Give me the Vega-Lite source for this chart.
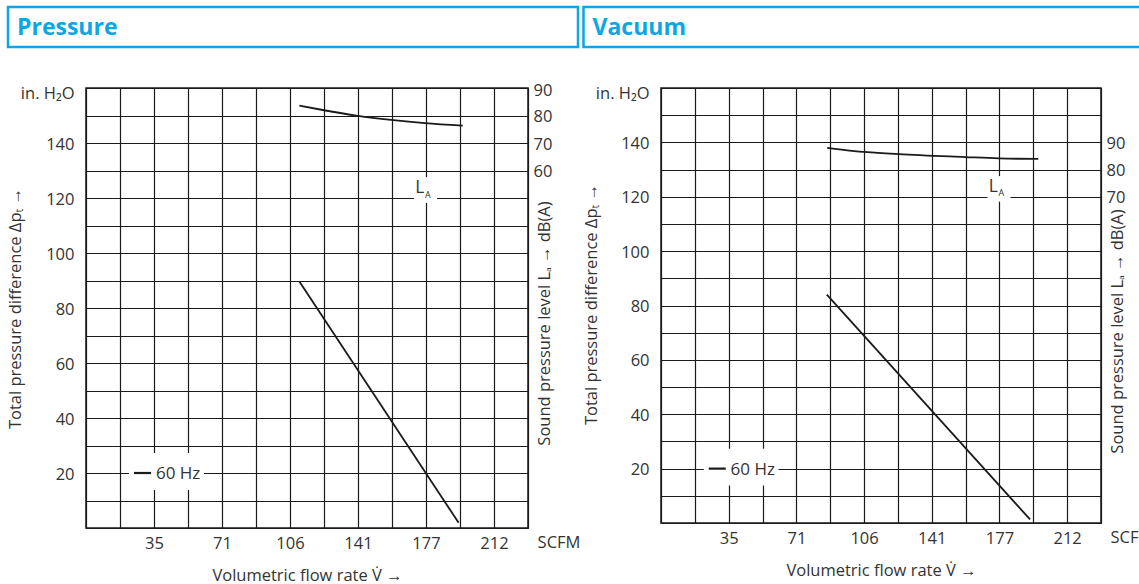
{
  "$schema": "https://vega.github.io/schema/vega-lite/v6.json",
  "padding": {"left": 6, "top": 5, "right": 0, "bottom": 0},
  "background": "white",
  "datasets": {
    "p60": [{"flow": 110.8, "dp": 89.6}, {"flow": 193.5, "dp": 1.9}],
    "pLA": [{"flow": 110.8, "db": 83.6}, {"flow": 122.9, "db": 82.0}, {"flow": 141.1, "db": 79.9}, {"flow": 158.4, "db": 78.4}, {"flow": 176.0, "db": 77.2}, {"flow": 195.6, "db": 76.3}],
    "v60": [{"flow": 86.5, "dp": 84.0}, {"flow": 192.5, "dp": 1.3}],
    "vLA": [{"flow": 86.7, "db": 88.0}, {"flow": 99.6, "db": 86.9}, {"flow": 124.1, "db": 85.7}, {"flow": 158.6, "db": 84.6}, {"flow": 176.3, "db": 84.1}, {"flow": 196.8, "db": 83.9}]
  },
  "config": {
    "font": "Open Sans",
    "view": {"stroke": "#1a1a1a", "strokeWidth": 1.5},
    "axis": {
      "labelFont": "Open Sans", "titleFont": "Open Sans", "labelColor": "#333", "titleColor": "#333",
      "labelFontSize": 16.5, "titleFontSize": 16.5, "titleFontWeight": "normal",
      "ticks": false, "domain": false, "labelFlush": false, "labelOverlap": false, "labelBound": false,
      "gridColor": "#1a1a1a", "gridWidth": 1.2, "gridOpacity": 1
    }
  },
  "spacing": 32,
  "vconcat": [
    {
      "spacing": 1.5,
      "hconcat": [
        {
          "width": 492, "height": 40,
          "view": {"stroke": null},
          "data": {"values": [{"title": "Pressure"}]},
          "layer": [
            {
              "mark": {"type": "rect", "fill": "transparent", "stroke": "#0AA6E6", "strokeWidth": 2.5},
              "encoding": {
                "x": {"datum": 0, "type": "quantitative", "scale": {"domain": [0.13684, 1], "nice": false, "zero": false}, "axis": null},
                "x2": {"datum": 1},
                "y": {"datum": 0, "type": "quantitative", "scale": {"domain": [0, 1]}, "axis": null},
                "y2": {"datum": 1}
              }
            },
            {
              "mark": {"type": "text", "align": "left", "baseline": "middle", "fontSize": 23, "fontWeight": "bold", "color": "#0AA6E6", "dx": 9, "dy": 1, "font": "Open Sans"},
              "encoding": {
                "x": {"datum": 0, "type": "quantitative", "axis": null},
                "y": {"datum": 0.5, "type": "quantitative", "axis": null},
                "text": {"field": "title"}
              }
            }
          ],
          "resolve": {"axis": {"x": "independent", "y": "independent"}}
        },
        {
          "width": 489, "height": 40,
          "view": {"stroke": null},
          "data": {"values": [{"title": "Vacuum"}]},
          "layer": [
            {
              "mark": {"type": "rect", "fill": "transparent", "stroke": "#0AA6E6", "strokeWidth": 2.5},
              "encoding": {
                "x": {"datum": 0, "type": "quantitative", "scale": {"domain": [0.14211, 1], "nice": false, "zero": false}, "axis": null},
                "x2": {"datum": 1},
                "y": {"datum": 0, "type": "quantitative", "scale": {"domain": [0, 1]}, "axis": null},
                "y2": {"datum": 1}
              }
            },
            {
              "mark": {"type": "text", "align": "left", "baseline": "middle", "fontSize": 23, "fontWeight": "bold", "color": "#0AA6E6", "dx": 9, "dy": 1, "font": "Open Sans"},
              "encoding": {
                "x": {"datum": 0, "type": "quantitative", "axis": null},
                "y": {"datum": 0.5, "type": "quantitative", "axis": null},
                "text": {"field": "title"}
              }
            }
          ],
          "resolve": {"axis": {"x": "independent", "y": "independent"}}
        }
      ]
    },
    {
      "spacing": 0,
      "hconcat": [
        {
          "width": 442, "height": 440,
          "layer": [
            {
              "layer": [
                {
                  "data": {"name": "p60"},
                  "mark": {"type": "line", "color": "#1a1a1a", "strokeWidth": 1.8},
                  "encoding": {
                    "x": {"field": "flow", "type": "quantitative", "scale": {"domain": [0, 229.515], "nice": false, "zero": false},
                      "axis": {"values": [0, 17.655, 35.31, 52.965, 70.62, 88.275, 105.93, 123.585, 141.24, 158.895, 176.55, 194.205, 211.86, 229.515],
                        "grid": true, "labelExpr": "(round(datum.value / 17.655) % 2 == 0 && datum.value > 1 && datum.value < 220) ? format(datum.value, '.0f') : ''",
                        "labelPadding": 7, "title": "Volumetric flow rate V\u0307 \u2192", "titlePadding": 16}},
                    "y": {"field": "dp", "type": "quantitative", "scale": {"domain": [0, 160], "nice": false, "zero": false},
                      "axis": {"values": [0, 10, 20, 30, 40, 50, 60, 70, 80, 90, 100, 110, 120, 130, 140, 150, 160], "grid": true,
                        "labelExpr": "datum.value == 160 ? 'in. H\u2082O' : ((datum.value >= 20 && datum.value <= 140 && datum.value % 20 == 0) ? datum.label : '')",
                        "labelBaseline": "middle",
                        "labelOffset": {"condition": {"test": "datum.value == 160", "value": 5}, "value": 1},
                        "labelPadding": 12,
                        "title": "Total pressure difference \u0394p\u209c  \u2192",
                        "titleAngle": -90, "titleX": -71, "titleY": 220, "titleBaseline": "middle", "titleAlign": "center"}}
                  }
                },
                {
                  "data": {"values": [{"box": "LA"}]},
                  "mark": {"type": "rect", "fill": "white"},
                  "encoding": {
                    "x": {"datum": 170.3, "type": "quantitative", "axis": null}, "x2": {"datum": 182.3},
                    "y": {"datum": 118.2, "type": "quantitative", "axis": null}, "y2": {"datum": 127.6}
                  }
                },
                {
                  "data": {"values": [{"box": "60 Hz"}]},
                  "mark": {"type": "rect", "fill": "white"},
                  "encoding": {
                    "x": {"datum": 22.3, "type": "quantitative", "axis": null}, "x2": {"datum": 61.3},
                    "y": {"datum": 13.8, "type": "quantitative", "axis": null}, "y2": {"datum": 27.3}
                  }
                },
                {
                  "data": {"values": [{"main": "L", "sub": "A"}]},
                  "mark": {"type": "text", "align": "right", "baseline": "alphabetic", "fontSize": 17.5, "color": "#333", "dx": -1.5, "dy": -5},
                  "encoding": {
                    "x": {"datum": 176.55, "type": "quantitative", "axis": null},
                    "y": {"datum": 120, "type": "quantitative", "axis": null},
                    "text": {"field": "main"}
                  }
                },
                {
                  "data": {"values": [{"main": "L", "sub": "A"}]},
                  "mark": {"type": "text", "align": "left", "baseline": "alphabetic", "fontSize": 9, "color": "#333", "dx": -1, "dy": -0.5},
                  "encoding": {
                    "x": {"datum": 176.55, "type": "quantitative", "axis": null},
                    "y": {"datum": 120, "type": "quantitative", "axis": null},
                    "text": {"field": "sub"}
                  }
                },
                {
                  "data": {"values": [{"series": "60 Hz"}]},
                  "mark": {"type": "rule", "color": "#1a1a1a", "strokeWidth": 2.2},
                  "encoding": {
                    "x": {"datum": 24.9, "type": "quantitative", "axis": null}, "x2": {"datum": 33.8},
                    "y": {"datum": 20, "type": "quantitative", "axis": null}
                  }
                },
                {
                  "data": {"values": [{"series": "60 Hz"}]},
                  "mark": {"type": "text", "align": "left", "baseline": "middle", "fontSize": 17, "color": "#333", "dy": 1},
                  "encoding": {
                    "x": {"datum": 36.3, "type": "quantitative", "axis": null},
                    "y": {"datum": 20, "type": "quantitative", "axis": null},
                    "text": {"field": "series"}
                  }
                },
                {
                  "data": {"values": [{"unit": "SCFM"}]},
                  "mark": {"type": "text", "align": "left", "baseline": "top", "fontSize": 16.5, "color": "#333", "dy": 7},
                  "encoding": {
                    "x": {"datum": 234.5, "type": "quantitative", "axis": null},
                    "y": {"datum": 0, "type": "quantitative", "axis": null},
                    "text": {"field": "unit"}
                  }
                }
              ],
              "resolve": {"axis": {"x": "independent", "y": "independent"}}
            },
            {
              "data": {"name": "pLA"},
              "mark": {"type": "line", "interpolate": "monotone", "color": "#1a1a1a", "strokeWidth": 1.8},
              "encoding": {
                "x": {"field": "flow", "type": "quantitative", "axis": null},
                "y": {"field": "db", "type": "quantitative", "scale": {"domain": [-70, 90], "nice": false, "zero": false},
                  "axis": {"orient": "right", "values": [60, 70, 80, 90], "grid": false, "labelPadding": 5, "labelAlign": "left",
                    "labelOffset": {"condition": {"test": "datum.value == 90", "value": 2}, "value": 1},
                    "title": "Sound pressure level L\u2090 \u2192 dB(A)", "titleAngle": -90, "titleX": 16, "titleY": 235, "titleBaseline": "middle", "titleAlign": "center"}}
              }
            }
          ],
          "resolve": {"scale": {"y": "independent"}, "axis": {"x": "independent", "y": "independent"}}
        },
        {
          "width": 440, "height": 435,
          "layer": [
            {
              "layer": [
                {
                  "data": {"name": "v60"},
                  "mark": {"type": "line", "color": "#1a1a1a", "strokeWidth": 1.8},
                  "encoding": {
                    "x": {"field": "flow", "type": "quantitative", "scale": {"domain": [0, 229.515], "nice": false, "zero": false},
                      "axis": {"values": [0, 17.655, 35.31, 52.965, 70.62, 88.275, 105.93, 123.585, 141.24, 158.895, 176.55, 194.205, 211.86, 229.515],
                        "grid": true, "labelExpr": "(round(datum.value / 17.655) % 2 == 0 && datum.value > 1 && datum.value < 220) ? format(datum.value, '.0f') : ''",
                        "labelPadding": 7, "title": "Volumetric flow rate V\u0307 \u2192", "titlePadding": 16}},
                    "y": {"field": "dp", "type": "quantitative", "scale": {"domain": [0, 160], "nice": false, "zero": false},
                      "axis": {"values": [0, 10, 20, 30, 40, 50, 60, 70, 80, 90, 100, 110, 120, 130, 140, 150, 160], "grid": true,
                        "labelExpr": "datum.value == 160 ? 'in. H\u2082O' : ((datum.value >= 20 && datum.value <= 140 && datum.value % 20 == 0) ? datum.label : '')",
                        "labelBaseline": "middle",
                        "labelOffset": {"condition": {"test": "datum.value == 160", "value": 5}, "value": 1},
                        "labelPadding": 12,
                        "title": "Total pressure difference \u0394p\u209c  \u2192",
                        "titleAngle": -90, "titleX": -70, "titleY": 216, "titleBaseline": "middle", "titleAlign": "center"}}
                  }
                },
                {
                  "data": {"values": [{"box": "LA"}]},
                  "mark": {"type": "rect", "fill": "white"},
                  "encoding": {
                    "x": {"datum": 170.3, "type": "quantitative", "axis": null}, "x2": {"datum": 182.3},
                    "y": {"datum": 118.2, "type": "quantitative", "axis": null}, "y2": {"datum": 127.6}
                  }
                },
                {
                  "data": {"values": [{"box": "60 Hz"}]},
                  "mark": {"type": "rect", "fill": "white"},
                  "encoding": {
                    "x": {"datum": 22.3, "type": "quantitative", "axis": null}, "x2": {"datum": 61.3},
                    "y": {"datum": 13.8, "type": "quantitative", "axis": null}, "y2": {"datum": 27.3}
                  }
                },
                {
                  "data": {"values": [{"main": "L", "sub": "A"}]},
                  "mark": {"type": "text", "align": "right", "baseline": "alphabetic", "fontSize": 17.5, "color": "#333", "dx": -1.5, "dy": -5},
                  "encoding": {
                    "x": {"datum": 176.55, "type": "quantitative", "axis": null},
                    "y": {"datum": 120, "type": "quantitative", "axis": null},
                    "text": {"field": "main"}
                  }
                },
                {
                  "data": {"values": [{"main": "L", "sub": "A"}]},
                  "mark": {"type": "text", "align": "left", "baseline": "alphabetic", "fontSize": 9, "color": "#333", "dx": -1, "dy": -0.5},
                  "encoding": {
                    "x": {"datum": 176.55, "type": "quantitative", "axis": null},
                    "y": {"datum": 120, "type": "quantitative", "axis": null},
                    "text": {"field": "sub"}
                  }
                },
                {
                  "data": {"values": [{"series": "60 Hz"}]},
                  "mark": {"type": "rule", "color": "#1a1a1a", "strokeWidth": 2.2},
                  "encoding": {
                    "x": {"datum": 24.9, "type": "quantitative", "axis": null}, "x2": {"datum": 33.8},
                    "y": {"datum": 20, "type": "quantitative", "axis": null}
                  }
                },
                {
                  "data": {"values": [{"series": "60 Hz"}]},
                  "mark": {"type": "text", "align": "left", "baseline": "middle", "fontSize": 17, "color": "#333", "dy": 1},
                  "encoding": {
                    "x": {"datum": 36.3, "type": "quantitative", "axis": null},
                    "y": {"datum": 20, "type": "quantitative", "axis": null},
                    "text": {"field": "series"}
                  }
                },
                {
                  "data": {"values": [{"unit": "SCFM"}]},
                  "mark": {"type": "text", "align": "left", "baseline": "top", "fontSize": 16.5, "color": "#333", "dy": 7},
                  "encoding": {
                    "x": {"datum": 234.5, "type": "quantitative", "axis": null},
                    "y": {"datum": 0, "type": "quantitative", "axis": null},
                    "text": {"field": "unit"}
                  }
                }
              ],
              "resolve": {"axis": {"x": "independent", "y": "independent"}}
            },
            {
              "data": {"name": "vLA"},
              "mark": {"type": "line", "interpolate": "monotone", "color": "#1a1a1a", "strokeWidth": 1.8},
              "encoding": {
                "x": {"field": "flow", "type": "quantitative", "axis": null},
                "y": {"field": "db", "type": "quantitative", "scale": {"domain": [-50, 110], "nice": false, "zero": false},
                  "axis": {"orient": "right", "values": [70, 80, 90], "grid": false, "labelPadding": 5, "labelAlign": "left",
                    "labelOffset": 1,
                    "title": "Sound pressure level L\u2090 \u2192 dB(A)", "titleAngle": -90, "titleX": 16, "titleY": 243, "titleBaseline": "middle", "titleAlign": "center"}}
              }
            }
          ],
          "resolve": {"scale": {"y": "independent"}, "axis": {"x": "independent", "y": "independent"}}
        }
      ]
    }
  ]
}
